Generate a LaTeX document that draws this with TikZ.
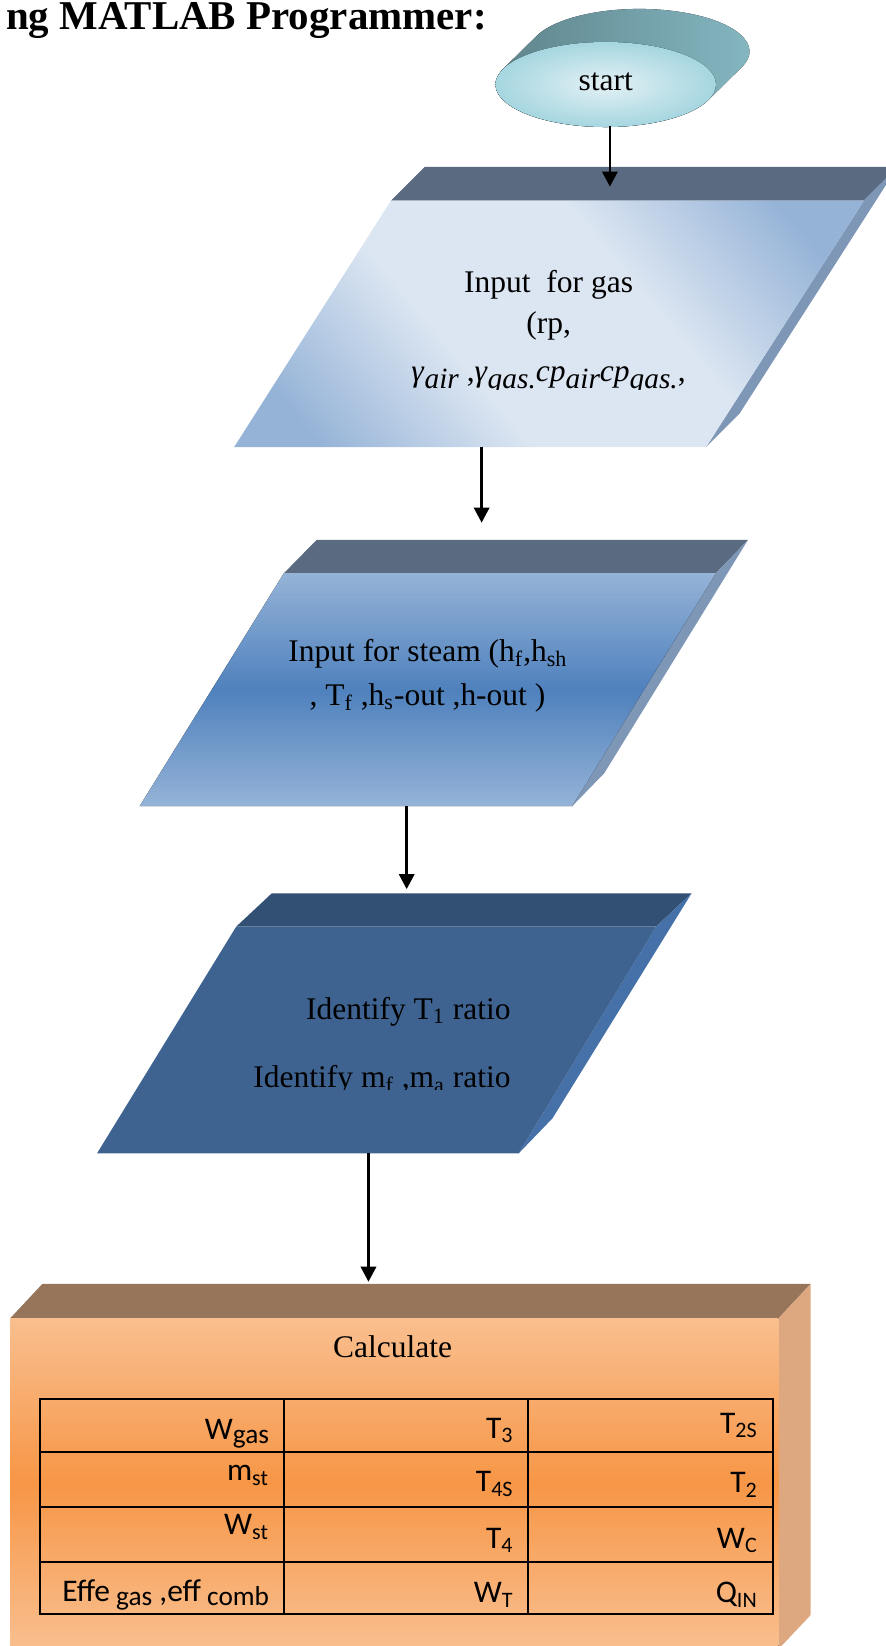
\documentclass[tikz,border=0pt]{standalone}
\usepackage{fontspec}
\setmainfont{Liberation Serif}
\newfontfamily\calibrifont{Carlito}
\usetikzlibrary{arrows.meta}
\definecolor{tealdark}{HTML}{5C8189}
\definecolor{teallight}{HTML}{86B9C3}
\definecolor{startin}{HTML}{E3F1F5}
\definecolor{startout}{HTML}{A6D6E0}
\definecolor{bandgrey}{HTML}{5A6A81}
\definecolor{sideblue}{HTML}{7F97B6}
\definecolor{paleblue}{HTML}{DCE6F2}
\definecolor{midblue}{HTML}{95B3D7}
\definecolor{deepblue}{HTML}{4F81BD}
\definecolor{navyband}{HTML}{325073}
\definecolor{navyface}{HTML}{3E6391}
\definecolor{navyside}{HTML}{4571A8}
\definecolor{brownband}{HTML}{96755A}
\definecolor{peach}{HTML}{F9BF8F}
\definecolor{orangemid}{HTML}{F79646}
\definecolor{peachside}{HTML}{DDA77F}
\pgfdeclareverticalshading{gasfade}{100bp}{color(0bp)=(midblue); color(22bp)=(midblue); color(40bp)=(paleblue); color(60bp)=(paleblue); color(78bp)=(midblue); color(100bp)=(midblue)}
\newcommand{\mathsub}[1]{\raisebox{-3.2pt}{\fontsize{14}{14}\selectfont\itshape #1}}
\newcommand{\bigsub}[1]{\raisebox{-1.9pt}{\fontsize{13}{13}\selectfont #1}}
\begin{document}
\begin{tikzpicture}[x=0.5pt,y=0.5pt,
    txt/.style={inner sep=0pt, font=\fontsize{15}{18}\selectfont},
    cell/.style={inner sep=0pt, anchor=base east, font=\calibrifont\fontsize{15}{18}\selectfont},
    arr/.style={line width=1.25pt, -{Triangle[width=7.3pt,length=7.2pt]}}]
        \useasboundingbox (0,0) rectangle (844,-1568);
        % Start
        \fill [left color=tealdark, right color=teallight] (577,-80.5) ++(-21.4:105 and 40.5) -- ++(32,31.5) arc [start angle=-21.4, end angle=158.6, x radius=105, y radius=40.5] -- ++(-32,-31.5) arc [start angle=158.6, end angle=338.6, x radius=105, y radius=40.5] -- cycle;
        \fill [inner color=startin, outer color=startout] (577,-80.5) ellipse [x radius=105, y radius=40.5];
        % Input gas
        \fill [bandgrey] (372.5,-191) -- (404.5,-159) -- (855,-159) -- (823,-191) -- cycle;
        \fill [sideblue] (823,-191) -- (855,-159) -- (704.5,-394) -- (672.5,-426) -- cycle;
        \shade [shading=gasfade, shading angle=-50] (372.5,-191) -- (823,-191) -- (672.5,-426) -- (223,-426) -- cycle;
        % Input steam
        \fill [bandgrey] (270.5,-546) -- (301.5,-514.4) -- (712.5,-514.4) -- (682,-546) -- cycle;
        \fill [sideblue] (682,-546) -- (712.5,-514.4) -- (575.6,-736.6) -- (545,-768) -- cycle;
        \fill [top color=midblue, bottom color=midblue, middle color=deepblue] (270.5,-546) -- (682,-546) -- (545,-768) -- (133,-768) -- cycle;
        % Identify
        \fill [navyband] (225,-882.7) -- (258.9,-851) -- (658.8,-851) -- (625,-882.7) -- cycle;
        \fill [navyside] (625,-882.7) -- (658.8,-851) -- (526.3,-1065.3) -- (494.2,-1098.6) -- cycle;
        \fill [navyface] (225,-882.7) -- (625,-882.7) -- (494.2,-1098.6) -- (92.5,-1098.6) -- cycle;
        % Calculate
        \fill [brownband] (9.7,-1255.8) -- (40.4,-1223) -- (772.3,-1223) -- (741.6,-1255.8) -- cycle;
        \fill [peachside] (741.6,-1255.8) -- (772.3,-1223) -- (772.3,-1538.4) -- (741.6,-1571) -- cycle;
        \fill [top color=peach, bottom color=peach, middle color=orangemid] (9.7,-1255.8) rectangle (741.6,-1570);
        % Tabella
        \draw [line width=1pt] (37.7,-1332.6) rectangle (736.2,-1537.8);
        \draw [line width=1pt] (270.2,-1332.6) -- (270.2,-1537.8);
        \draw [line width=1pt] (503.2,-1332.6) -- (503.2,-1537.8);
        \draw [line width=1pt] (37.7,-1382.8) -- (736.2,-1382.8);
        \draw [line width=1pt] (37.7,-1435.2) -- (736.2,-1435.2);
        \draw [line width=1pt] (37.7,-1487.9) -- (736.2,-1487.9);
        % Testi
        \node [txt, anchor=base east, font=\bfseries\fontsize{19.5}{23}\selectfont] (title) at (464,-28.5) {ng MATLAB Programmer:};
        \node [txt, anchor=base] (start) at (577,-86.4) {start};
        \node [txt, anchor=base] (gasA) at (522.6,-278.8) {Input\ \ for gas};
        \node [txt, anchor=base] (gasB) at (522.6,-317.5) {(rp,};
        \begin{scope}
            \clip (370,-330) rectangle (690,-371.5);
            \node [txt, anchor=base] (gasC) at (522.6,-363.6) {\textit{γ}\mathsub{air} ,\textit{γ}\mathsub{gas.}\textit{cp}\mathsub{air}\textit{cp}\mathsub{gas.},};
        \end{scope}
        \node [txt, anchor=base] (steamA) at (407.7,-630.3) {Input for steam (h\textsubscript{f},h\textsubscript{sh}};
        \node [txt, anchor=base] (steamB) at (407.2,-671.6) {, T\textsubscript{f} ,h\textsubscript{s}-out ,h-out )};
        \node [txt, anchor=base east] (identA) at (486.8,-971) {Identify T\textsubscript{1} ratio};
        \begin{scope}
            \clip (200,-1000) rectangle (520,-1038.3);
            \node [txt, anchor=base east] (identB) at (486.8,-1036) {Identify m\textsubscript{f} ,m\textsubscript{a} ratio};
        \end{scope}
        \node [txt, anchor=base] (calc) at (374,-1293) {Calculate};
        \node [cell] (c11) at (256.7,-1371.7) {W\bigsub{gas}};
        \node [cell] (c12) at (489.7,-1370) {T\textsubscript{3}};
        \node [cell] (c13) at (722.3,-1365.4) {T\textsubscript{2S}};
        \node [cell] (c21) at (256.7,-1410.8) {m\textsubscript{st}};
        \node [cell] (c22) at (489.7,-1421) {T\textsubscript{4S}};
        \node [cell] (c23) at (722.3,-1422) {T\textsubscript{2}};
        \node [cell] (c31) at (256.7,-1462.2) {W\textsubscript{st}};
        \node [cell] (c32) at (489.7,-1474.9) {T\textsubscript{4}};
        \node [cell] (c33) at (722.3,-1474.9) {W\textsubscript{C}};
        \node [cell] (c41) at (256.7,-1525.7) {Effe\bigsub{ gas} ,eff\bigsub{ comb}};
        \node [cell] (c42) at (489.7,-1527) {W\textsubscript{T}};
        \node [cell] (c43) at (722.3,-1527) {Q\textsubscript{IN}};
        % Frecce
        \coordinate (startout) at (581,-119.7);
        \coordinate (gasin) at (581,-177.8);
        \coordinate (gasout) at (458.8,-425.5);
        \coordinate (steamin) at (458.8,-497.9);
        \coordinate (steamout) at (387.4,-768);
        \coordinate (identin) at (387.4,-847);
        \coordinate (identout) at (351,-1098.6);
        \coordinate (calcin) at (351,-1221);
        \draw [arr] (startout) -- (gasin);
        \draw [arr] (gasout) -- (steamin);
        \draw [arr] (steamout) -- (identin);
        \draw [arr] (identout) -- (calcin);
    \end{tikzpicture}
\end{document}
